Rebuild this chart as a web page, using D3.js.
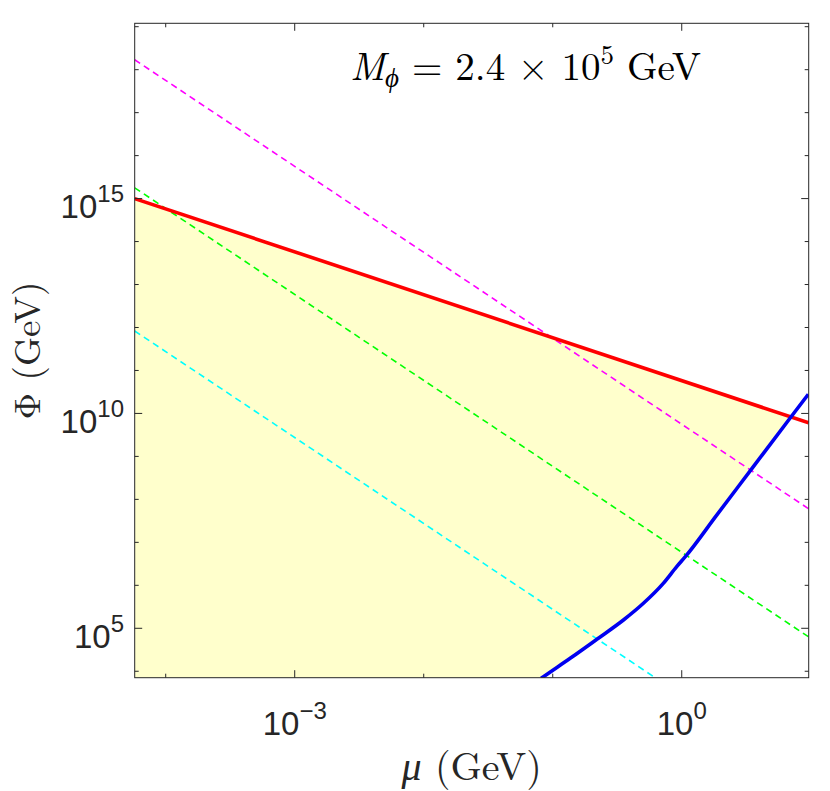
<!DOCTYPE html>
<html><head><meta charset="utf-8">
<script src="https://cdn.jsdelivr.net/npm/d3@7/dist/d3.min.js"></script>
<style>body{margin:0;background:#fff}svg{display:block}</style>
</head><body>
<svg id="c" width="830" height="791"></svg>
<script>
// ---- data ----
const xDomain = [5.75e-5, 9.64];        // mu (GeV)
const yDomain = [7.08e3, 1.2e19];       // Phi (GeV)
const xMajorTicks = [1e-3, 1e0];
const xMajorLabels = ["\u22123", "0"];
const xMinorTicks = [1e-4, 1e-2, 1e-1];
const yMajorTicks = [1e5, 1e10, 1e15];
const yMajorLabels = ["5", "10", "15"];
const yMinorTicks = [1e4,1e6,1e7,1e8,1e9,1e11,1e12,1e13,1e14,1e16,1e17,1e18,1e19];

// red solid bound
const redMu  = [5.75e-5, 9.64];
const redPhi = [1.0e15, 6.03e9];
// blue solid curve
const blueMu  = [0.0813, 0.0847, 0.1365, 0.2198, 0.3532, 0.5047, 0.7194, 0.9142, 1.062, 1.866, 3.483, 6.902, 9.57];
const bluePhi = [6.84e3, 7.46e3, 2.00e4, 5.55e4, 1.56e5, 3.82e5, 1.11e6, 2.72e6, 4.57e6, 4.30e7, 5.11e8, 7.71e9, 2.80e10];
// dashed lines
const magentaMu = [5.75e-5, 9.64], magentaPhi = [1.70e18, 6.03e7];
const greenMu   = [5.75e-5, 9.64], greenPhi   = [1.78e15, 6.3e4];
const cyanMu    = [5.75e-5, 9.64], cyanPhi    = [8.3e11, 29.6];

// ---- layout ----
const L = 134.7, T = 23.3, R = 808.7, B = 677.7;
const svg = d3.select("#c");
const x = d3.scaleLog().domain(xDomain).range([L, R]);
const y = d3.scaleLog().domain(yDomain).range([B, T]);
const zip = (a, b) => a.map((v, i) => [v, b[i]]);
const line = d3.line().x(d => x(d[0])).y(d => y(d[1]));
const smooth = d3.line().x(d => x(d[0])).y(d => y(d[1])).curve(d3.curveMonotoneX);

svg.append("defs").append("clipPath").attr("id", "clip")
  .append("rect").attr("x", L).attr("y", T).attr("width", R - L).attr("height", B - T);
const g = svg.append("g").attr("clip-path", "url(#clip)");

// ---- allowed region fill: below red, left of blue ----
const red = zip(redMu, redPhi), blue = zip(blueMu, bluePhi);
function redAt(lm) {
  const a = Math.log10(redMu[0]), b = Math.log10(redMu[1]);
  const t = (lm - a) / (b - a);
  return Math.log10(redPhi[0]) + t * (Math.log10(redPhi[1]) - Math.log10(redPhi[0]));
}
let inter = null, cut = blue.length - 1;
for (let i = 0; i < blue.length - 1; i++) {
  const l0 = Math.log10(blue[i][0]), l1 = Math.log10(blue[i+1][0]);
  const d0 = Math.log10(blue[i][1]) - redAt(l0), d1 = Math.log10(blue[i+1][1]) - redAt(l1);
  if (d0 <= 0 && d1 > 0) {
    const t = d0 / (d0 - d1);
    const lm = l0 + t * (l1 - l0);
    inter = [Math.pow(10, lm), Math.pow(10, redAt(lm))];
    cut = i; break;
  }
}
const bluePart = blue.slice(0, cut + 1).concat([inter]);
const fillD = smooth(bluePart) +
  "L" + x(red[0][0]) + "," + y(red[0][1]) +
  "L" + x(xDomain[0]) + "," + (B + 20) +
  "L" + x(blue[0][0]) + "," + (B + 20) + "Z";
g.append("path").attr("d", fillD).attr("fill", "#ffffcc").attr("stroke", "none");

// ---- lines ----
const dashed = [[magentaMu, magentaPhi, "#ff00ff"], [greenMu, greenPhi, "#00ff00"], [cyanMu, cyanPhi, "#00ffff"]];
dashed.forEach(([m, p, c]) => {
  g.append("path").attr("d", line(zip(m, p))).attr("fill", "none")
    .attr("stroke", c).attr("stroke-width", 1.6).attr("stroke-dasharray", "6.5,4.5");
});
g.append("path").attr("d", line(red)).attr("fill", "none").attr("stroke", "#ff0000").attr("stroke-width", 3.6);
g.append("path").attr("d", smooth(blue)).attr("fill", "none").attr("stroke", "#0000f0").attr("stroke-width", 3.6)
  .attr("stroke-linejoin", "round");

// ---- frame & ticks ----
const axColor = "#262626";
svg.append("rect").attr("x", L).attr("y", T).attr("width", R - L).attr("height", B - T)
  .attr("fill", "none").attr("stroke", axColor).attr("stroke-width", 1);
const tk = svg.append("g").attr("stroke", axColor).attr("stroke-width", 1);
function xt(v, len) {
  tk.append("line").attr("x1", x(v)).attr("x2", x(v)).attr("y1", B).attr("y2", B - len);
  tk.append("line").attr("x1", x(v)).attr("x2", x(v)).attr("y1", T).attr("y2", T + len);
}
function yt(v, len) {
  tk.append("line").attr("y1", y(v)).attr("y2", y(v)).attr("x1", L).attr("x2", L + len);
  tk.append("line").attr("y1", y(v)).attr("y2", y(v)).attr("x1", R).attr("x2", R - len);
}
xMajorTicks.forEach(v => xt(v, 7.5));
xMinorTicks.forEach(v => xt(v, 4));
yMajorTicks.forEach(v => yt(v, 7.5));
yMinorTicks.forEach(v => yt(v, 4));

// ---- tick labels ----
const sans = "'Liberation Sans', Arial, Helvetica, sans-serif";
xMajorTicks.forEach((v, i) => {
  const t = svg.append("text").attr("x", x(v)).attr("y", 735).attr("text-anchor", "middle")
    .attr("font-family", sans).attr("font-size", 33).attr("fill", "#262626");
  t.append("tspan").text("10");
  t.append("tspan").attr("dy", -16).attr("font-size", 24).text(xMajorLabels[i]);
});
yMajorTicks.forEach((v, i) => {
  const t = svg.append("text").attr("x", 124).attr("y", y(v) + 19.5).attr("text-anchor", "end")
    .attr("font-family", sans).attr("font-size", 33).attr("fill", "#262626");
  t.append("tspan").text("10");
  t.append("tspan").attr("dy", -16).attr("font-size", 24).text(yMajorLabels[i]);
});

// ---- axis labels ----
const serif = "'Latin Modern Roman', 'CMU Serif', 'Liberation Serif', 'DejaVu Serif', serif";
const xl = svg.append("text").attr("x", (L + R) / 2).attr("y", 780).attr("text-anchor", "middle")
  .attr("font-family", serif).attr("font-size", 40).attr("fill", "#262626");
xl.append("tspan").attr("font-style", "italic").text("μ");
xl.append("tspan").text(" (GeV)");
const yl = svg.append("text").attr("transform", `translate(40,${(T + B) / 2}) rotate(-90)`).attr("text-anchor", "middle")
  .attr("font-family", serif).attr("font-size", 37).attr("fill", "#262626");
yl.append("tspan").text("Φ (GeV)");

// ---- annotation ----
const ann = svg.append("text").attr("x", 350).attr("y", 80)
  .attr("font-family", serif).attr("font-size", 39).attr("fill", "#000");
ann.append("tspan").attr("font-style", "italic").text("M");
ann.append("tspan").attr("font-style", "italic").attr("font-size", 27).attr("dy", 7).text("ϕ");
ann.append("tspan").attr("dy", -7).text(" = 2.4 × 10");
ann.append("tspan").attr("font-size", 27).attr("dy", -16).text("5");
ann.append("tspan").attr("dy", 16).text(" GeV");
</script>
</body></html>
